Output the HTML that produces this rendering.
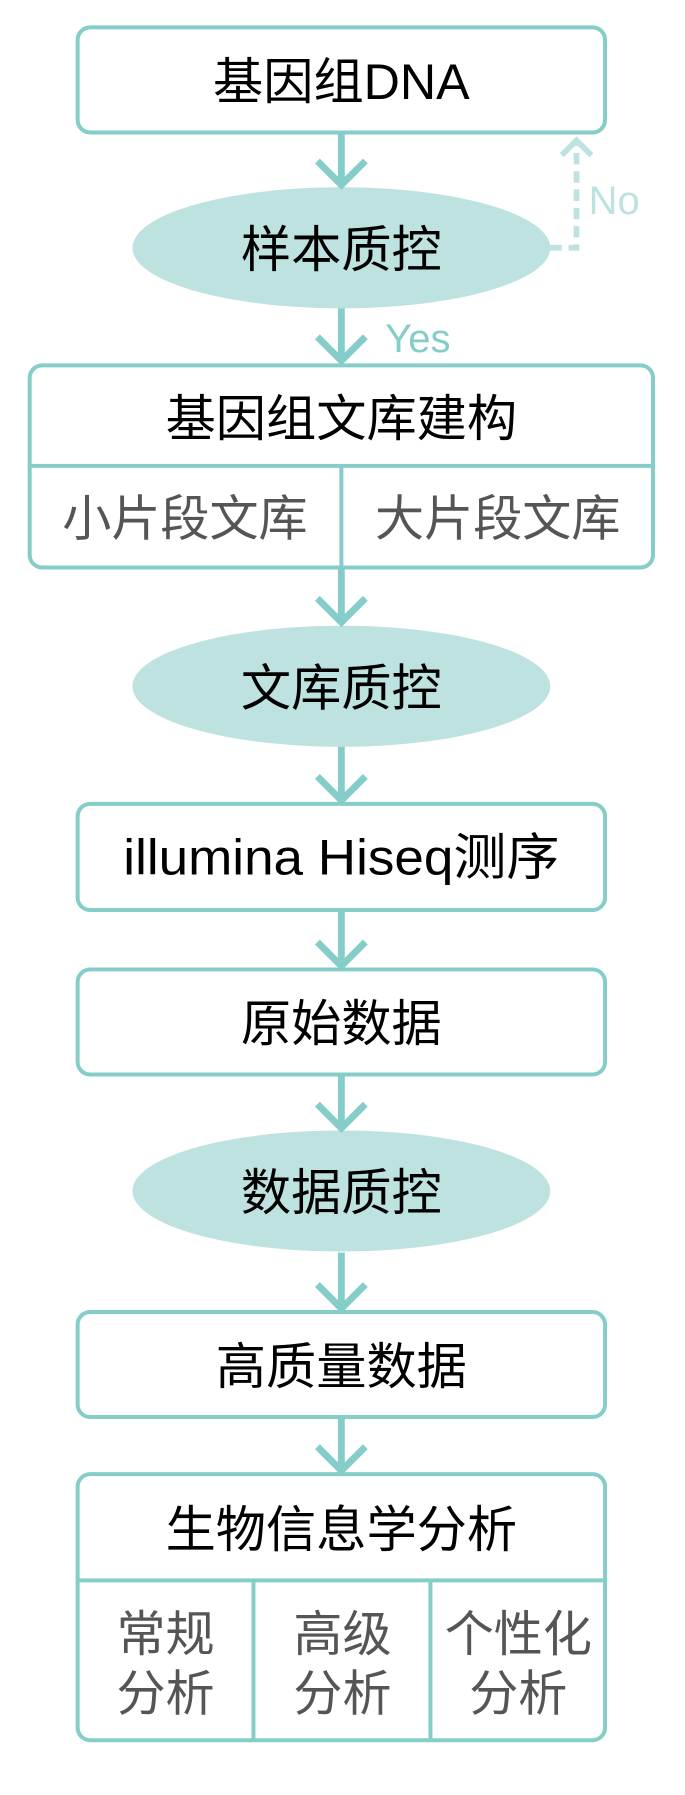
<!DOCTYPE html>
<html><head><meta charset="utf-8"><style>
html,body{margin:0;padding:0;background:#fff;}
svg{display:block;}
text{font-family:"Liberation Sans","Noto Sans CJK SC",sans-serif;text-anchor:middle;dominant-baseline:central;}
</style></head><body>
<svg width="685" height="1795" viewBox="0 0 600 1572" preserveAspectRatio="none" xmlns="http://www.w3.org/2000/svg">
<g fill="none" stroke="#85cdc8" stroke-width="3.5">
<rect x="68" y="24" width="462" height="92" rx="11"/>
<rect x="26" y="320" width="546" height="177" rx="11"/>
<line x1="26" y1="408" x2="572" y2="408"/>
<line x1="299" y1="408" x2="299" y2="497"/>
<rect x="68" y="704" width="462" height="93" rx="11"/>
<rect x="68" y="849" width="462" height="92" rx="11"/>
<rect x="68" y="1149" width="462" height="92" rx="11"/>
<rect x="68" y="1291" width="462" height="233" rx="11"/>
<line x1="68" y1="1384" x2="530" y2="1384"/>
<line x1="222" y1="1384" x2="222" y2="1524"/>
<line x1="377" y1="1384" x2="377" y2="1524"/>
</g>
<g fill="#bde2df">
<ellipse cx="299" cy="217" rx="183" ry="53"/>
<ellipse cx="299" cy="601" rx="183" ry="53"/>
<ellipse cx="299" cy="1043" rx="183" ry="53"/>
</g>
<g fill="none" stroke="#85cdc8" stroke-width="6">
<path d="M299 116V162M278 141L299 162L320 141"/>
<path d="M299 270V316M278 295L299 316L320 295"/>
<path d="M299 497V545M278 524L299 545L320 524"/>
<path d="M299 654V701M278 680L299 701L320 680"/>
<path d="M299 797V846M278 825L299 846L320 825"/>
<path d="M299 941V988M278 967L299 988L320 967"/>
<path d="M299 1097V1146M278 1125L299 1146L320 1125"/>
<path d="M299 1241V1288M278 1267L299 1288L320 1267"/>
</g>
<g fill="none" stroke="#bde2df" stroke-width="5">
<path d="M482 217H505V125" stroke-dasharray="10 6"/>
<path d="M492 136L505 123L518 136"/>
</g>
<g font-size="44" fill="#000">
<text x="299" y="72">基因组DNA</text>
<text x="299" y="219">样本质控</text>
<text x="299" y="367">基因组文库建构</text>
<text x="299" y="603">文库质控</text>
<text x="299" y="751" textLength="382" lengthAdjust="spacingAndGlyphs">illumina Hiseq测序</text>
<text x="299" y="897">原始数据</text>
<text x="299" y="1045">数据质控</text>
<text x="299" y="1197">高质量数据</text>
<text x="299" y="1340">生物信息学分析</text>
</g>
<g font-size="43" fill="#555">
<text x="162" y="455">小片段文库</text>
<text x="436" y="455">大片段文库</text>
<text x="145" y="1432">常规</text>
<text x="145" y="1484">分析</text>
<text x="300" y="1432">高级</text>
<text x="300" y="1484">分析</text>
<text x="454" y="1432">个性化</text>
<text x="454" y="1484">分析</text>
</g>
<g font-size="35" fill="#bde2df"><text x="538" y="176">No</text></g>
<g font-size="35" fill="#85cdc8"><text x="366" y="297">Yes</text></g>
</svg>
</body></html>
